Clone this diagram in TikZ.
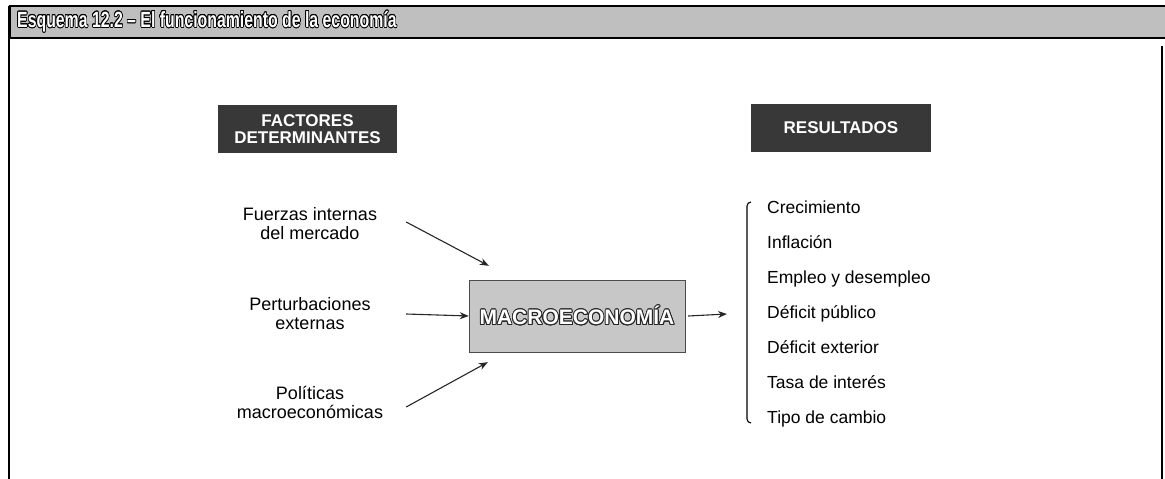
\documentclass[tikz,border=0pt]{standalone}
\usepackage{fontspec}
\setmainfont{Liberation Sans}
\usepackage{contour}
\contourlength{0.9pt}
\usetikzlibrary{arrows.meta, positioning, calc}
\tikzset{
    cabecera/.style={fill=black!78, text=white, font=\fontsize{17}{17}\selectfont\bfseries, align=center, inner sep=0pt, minimum height=48pt},
    factor/.style={align=center, font=\fontsize{18}{19}\selectfont, minimum width=192pt, inner sep=0pt},
    item/.style={anchor=west, inner sep=0pt, text height=13pt, text depth=4pt, font=\fontsize{17.5}{20}\selectfont},
    flecha/.style={-{Stealth[length=9pt, width=7pt]}, line width=1.1pt, black!85}
}

\begin{document}
\begin{tikzpicture}[x=1pt, y=-1pt]
  \useasboundingbox (0,0) rectangle (1165,479);
  % marco y barra del titulo
  \draw[fill=black!25, line width=1.2pt] (10,6) rectangle (1172,38);
  \draw[line width=1.4pt] (9,6) -- (9,479);
  \draw[line width=1.4pt] (1162,46) -- (1162,479);
  \node[anchor=west, text=white, inner sep=0pt, font=\fontsize{22}{22}\selectfont\bfseries] (titulo) at (17,22)
    {\scalebox{0.72}[1]{\contour{black}{Esquema 12.2 – El funcionamiento de la economía}}};

  % cabeceras
  \node (factores) [cabecera, minimum width=179pt] at (307.5,129) {FACTORES\\DETERMINANTES};
  \node (resultados) [cabecera, minimum width=180pt] at (841,128) {RESULTADOS};

  % factores determinantes
  \node (fuerzas) [factor] at (310,224) {Fuerzas internas\\del mercado};
  \node (perturb) [factor] at (310,314) {Perturbaciones\\externas};
  \node (politicas) [factor] at (310,402) {Pol\'iticas\\macroecon\'omicas};

  \node (macro) [fill=black!22, draw=black!70, minimum width=216pt, minimum height=72pt, inner sep=0pt,
    text=white, font=\fontsize{21}{21}\selectfont\bfseries] at (577,316) {\contour{black!85}{MACROECONOM\'IA}};

  % resultados
  \node (crec) [item] at (767,209) {Crecimiento};
  \node (infl) [item, below=35pt of crec.west, anchor=west] {Inflaci\'on};
  \node (empleo) [item, below=35pt of infl.west, anchor=west] {Empleo y desempleo};
  \node (defpub) [item, below=35pt of empleo.west, anchor=west] {D\'eficit p\'ublico};
  \node (defext) [item, below=35pt of defpub.west, anchor=west] {D\'eficit exterior};
  \node (tasa) [item, below=35pt of defext.west, anchor=west] {Tasa de inter\'es};
  \node (tipo) [item, below=35pt of tasa.west, anchor=west] {Tipo de cambio};

  \draw[line width=1.1pt] ([xshift=-16pt, yshift=7pt]crec.west) to[out=180, in=90] ([xshift=-20pt, yshift=3pt]crec.west)
    -- ([xshift=-20pt]tipo.west) to[out=-90, in=180] ([xshift=-16pt, yshift=-4pt]tipo.west);

  % flechas
  \draw [flecha] ([yshift=2pt]fuerzas.east) -- ([xshift=20pt, yshift=14pt]macro.north west);
  \draw [flecha] (perturb.east) -- (macro.west);
  \draw [flecha] ([yshift=-5pt]politicas.east) -- ([xshift=19pt, yshift=-10pt]macro.south west);
  \draw [flecha] ([xshift=3pt]macro.east) -- ([xshift=-40pt]defpub.west);
\end{tikzpicture}
\end{document}
